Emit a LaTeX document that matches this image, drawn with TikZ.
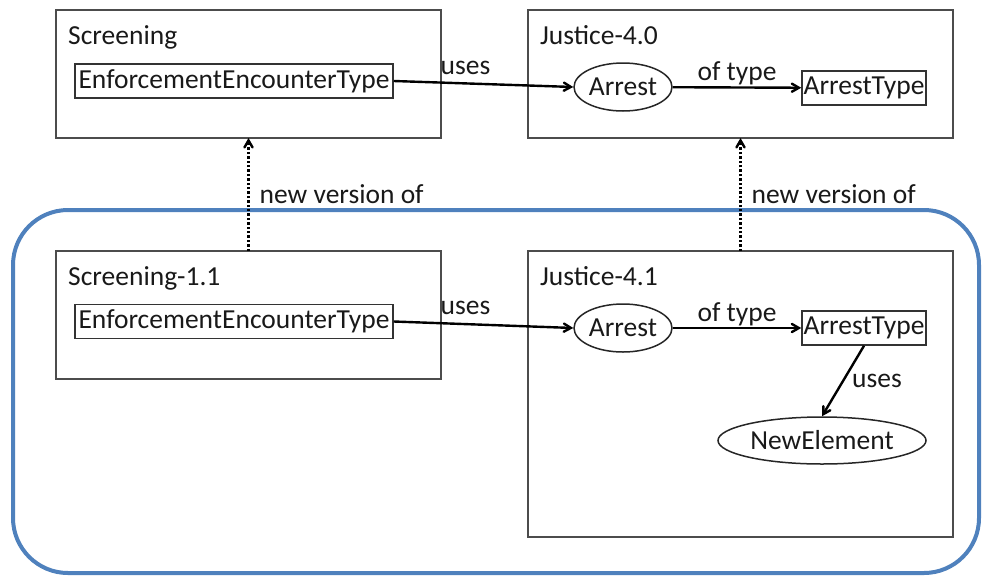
\documentclass[tikz,border=0pt]{standalone}
\usepackage{fontspec}
\setmainfont{Carlito}
\usetikzlibrary{arrows,calc,positioning,shapes}
\definecolor{releaseblue}{RGB}{79,129,189}
\tikzstyle{package}=[
  draw=black!70,
  line width=2pt,
  rectangle,
  anchor=north west,
  inner sep=0pt,
  outer sep=0pt,
]
\tikzstyle{title}=[
  anchor=base west,
  inner sep=0pt,
]
\tikzstyle{typebox}=[
  draw=black!80,
  line width=1.5pt,
  rectangle,
  inner sep=1pt,
  minimum height=34pt,
]
\tikzstyle{element}=[
  draw=black!85,
  line width=1.5pt,
  ellipse,
  inner sep=0pt,
  minimum height=48pt,
]
\tikzstyle{arrow}=[
  ->,
  draw=black,
  line width=2.4pt,
]
\tikzstyle{versionof}=[
  ->,
  draw=black,
  line width=2.4pt,
  dotted,
]
\tikzstyle{arrowlabel}=[
  inner sep=0pt,
]
\tikzstyle{release}=[
  draw=releaseblue,
  line width=4pt,
  rounded corners=55pt,
]
\tikzset{
  >=angle 60,
  every node/.style={font=\fontsize{27.5}{32}\selectfont, text=black!90},
}
\begin{document}
\begin{tikzpicture}[x=1pt, y=-1pt]
    \useasboundingbox (0,0) rectangle (984,576);
    \draw [release] (13,210) rectangle (979,573);
    %%
    \node (screening) [package, minimum width=385pt, minimum height=128pt] at (56,10) {};
    \node [title] at ($(screening.north west)+(12,34)$) {Screening};
    \node (eetA) [typebox, minimum width=318pt] at (234,81) {EnforcementEncounterType};
    %%
    \node (justiceA) [package, minimum width=425pt, minimum height=128pt] at (528,10) {};
    \node [title] at ($(justiceA.north west)+(12,34)$) {Justice-4.0};
    \node (arrestA) [element, minimum width=98pt] at (623,87) {Arrest};
    \node (arresttypeA) [typebox, minimum width=124pt] at (864,88) {ArrestType};
    %%
    \node (screeningB) [package, minimum width=385pt, minimum height=128pt] at (56,251) {};
    \node [title] at ($(screeningB.north west)+(12,34)$) {Screening-1.1};
    \node (eetB) [typebox, minimum width=318pt] at (234,321.5) {EnforcementEncounterType};
    %%
    \node (justiceB) [package, minimum width=425pt, minimum height=286pt] at (528,251) {};
    \node [title] at ($(justiceB.north west)+(12,34)$) {Justice-4.1};
    \node (arrestB) [element, minimum width=98pt] at (623,328) {Arrest};
    \node (arresttypeB) [typebox, minimum width=124pt] at (864,328) {ArrestType};
    \node (newelement) [element, minimum width=208pt, minimum height=47pt] at (822,440.5) {NewElement};
    %%
    \draw [arrow] (eetA.east) -- node [arrowlabel, pos=.4, above=8pt] {uses} (arrestA.west);
    \draw [arrow] (arrestA) -- node [arrowlabel, above=1pt] {of type} (arresttypeA);
    \draw [arrow] (eetB.east) -- node [arrowlabel, pos=.4, above=8pt] {uses} (arrestB.west);
    \draw [arrow] (arrestB) -- node [arrowlabel, above=1pt] {of type} (arresttypeB);
    \draw [arrow] (arresttypeB.south) -- node [arrowlabel, right=8pt] {uses} (newelement.north);
    %%
    \draw [versionof] (screeningB.north) -- node [arrowlabel, right=10pt] {new version of} (screening.south);
    \draw [versionof] (justiceB.north) -- node [arrowlabel, right=10pt] {new version of} (justiceA.south);
\end{tikzpicture}
\end{document}
